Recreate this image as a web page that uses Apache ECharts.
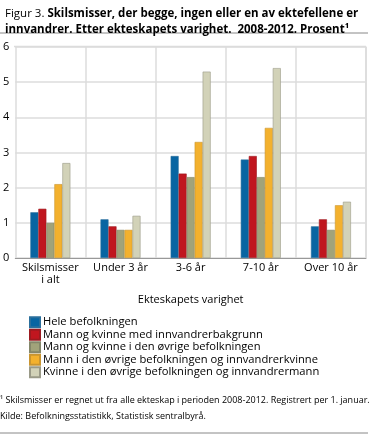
<!DOCTYPE html>
<html><head><meta charset="utf-8">
<script src="https://cdn.jsdelivr.net/npm/echarts@6/dist/echarts.min.js"></script>
<style>html,body{margin:0;padding:0;background:#fff}#c{width:371px;height:435px}</style>
</head><body><div id="c"></div>
<script>
var categories = ['Skilsmisser\ni alt', 'Under 3 år', '3-6 år', '7-10 år', 'Over 10 år'];
var seriesNames = ['Hele befolkningen', 'Mann og kvinne med innvandrerbakgrunn', 'Mann og kvinne i den øvrige befolkningen', 'Mann i den øvrige befolkningen og innvandrerkvinne', 'Kvinne i den øvrige befolkningen og innvandrermann'];
var hele = [1.3, 1.1, 2.9, 2.8, 0.9];
var innvBakgrunn = [1.4, 0.9, 2.4, 2.9, 1.1];
var ovrige = [1.0, 0.8, 2.3, 2.3, 0.8];
var mannOvrigKvinneInnv = [2.1, 0.8, 3.3, 3.7, 1.5];
var kvinneOvrigMannInnv = [2.7, 1.2, 5.3, 5.4, 1.6];
var yTicks = [0, 1, 2, 3, 4, 5, 6];
var colors = ['#0865a2', '#c0161f', '#a1a37a', '#f3b12e', '#d2d2b8'];
var borders = ['#2a6f9c', '#9c1a20', '#84876a', '#c99530', '#9a9a88'];
var values = [hele, innvBakgrunn, ovrige, mannOvrigKvinneInnv, kvinneOvrigMannInnv];
var FONT = 'Open Sans';
var chart = echarts.init(document.getElementById('c'), null, {renderer: 'canvas'});
chart.setOption({
  animation: false,
  textStyle: {fontFamily: FONT},
  title: {
    left: 0, top: 1,
    text: '{n|Figur 3. }{b|Skilsmisser, der begge, ingen eller en av ektefellene er}\n{b|innvandrer. Etter ekteskapets varighet.  2008-2012. Prosent¹}',
    textStyle: {
      lineHeight: 16,
      rich: {
        n: {fontFamily: FONT, fontSize: 11.5, color: '#000', fontWeight: 'normal', lineHeight: 16},
        b: {fontFamily: FONT, fontSize: 11.5, color: '#000', fontWeight: 'bold', lineHeight: 16}
      }
    }
  },
  grid: {left: 14, right: 5, top: 47, bottom: 177, containLabel: false},
  xAxis: {
    type: 'category', data: categories,
    name: 'Ekteskapets varighet', nameLocation: 'middle', nameGap: 36,
    nameTextStyle: {fontFamily: FONT, fontSize: 11, color: '#000'},
    axisLine: {lineStyle: {color: '#999', width: 1}},
    axisTick: {show: false},
    axisLabel: {fontFamily: FONT, fontSize: 11, color: '#000', margin: 4, lineHeight: 12, interval: 0},
    splitLine: {show: true, lineStyle: {color: '#dcdcdc', width: 1.5}}
  },
  yAxis: {
    type: 'value', min: 0, max: 6, interval: 1,
    axisLine: {show: false}, axisTick: {show: false},
    axisLabel: {fontFamily: FONT, fontSize: 11, color: '#000', margin: 6,
      formatter: function (v) { return yTicks.indexOf(v) >= 0 ? String(v) : ''; }},
    splitLine: {lineStyle: {color: '#dcdcdc', width: 1.5}}
  },
  legend: {
    orient: 'vertical', left: 29, top: 316, padding: 0,
    itemWidth: 10, itemHeight: 10, itemGap: 0,
    icon: 'rect',
    textStyle: {fontFamily: FONT, fontSize: 11.2, color: '#000', lineHeight: 12.5, padding: [0, 0, 0, -2]},
    data: seriesNames
  },
  series: values.map(function (arr, i) {
    return {
      name: seriesNames[i], type: 'bar', data: arr,
      barWidth: 8, barGap: '0%',
      itemStyle: {color: colors[i], borderColor: borders[i], borderWidth: 0.6}
    };
  }),
  graphic: [
    {type: 'line', shape: {x1: 0, y1: 33, x2: 368, y2: 33}, style: {stroke: '#888', lineWidth: 1}},
    {type: 'line', shape: {x1: 14, y1: 46.5, x2: 366, y2: 46.5}, style: {stroke: '#dcdcdc', lineWidth: 1.5}, z: 1},
    {type: 'line', shape: {x1: 366, y1: 46.5, x2: 366, y2: 258}, style: {stroke: '#dcdcdc', lineWidth: 1.5}, z: 1},
    {type: 'text', left: 0, top: 396, style: {text: '¹ Skilsmisser er regnet ut fra alle ekteskap i perioden 2008-2012. Registrert per 1. januar.', font: '9px "Open Sans"', fill: '#000'}},
    {type: 'text', left: 0, top: 412, style: {text: 'Kilde: Befolkningsstatistikk, Statistisk sentralbyrå.', font: '9px "Open Sans"', fill: '#000'}},
    {type: 'line', shape: {x1: 0, y1: 433, x2: 368, y2: 433}, style: {stroke: '#888', lineWidth: 1}}
  ]
});
</script></body></html>
